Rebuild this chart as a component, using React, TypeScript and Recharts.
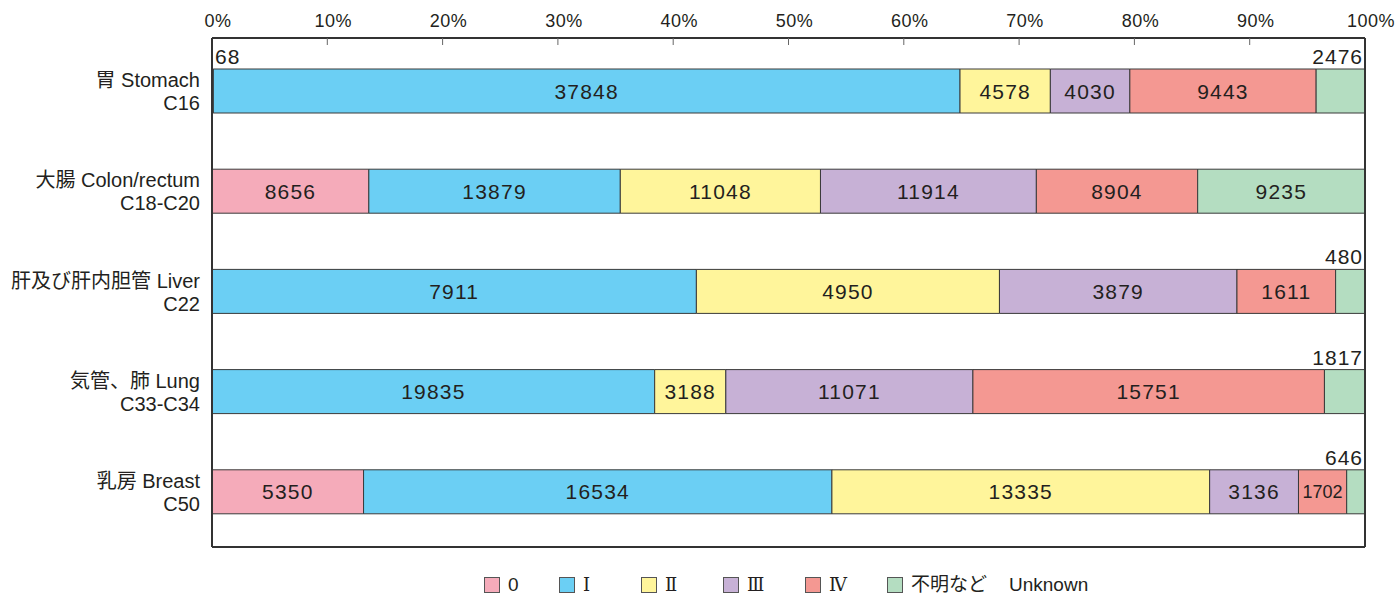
import * as React from "react";
import { BarChart, Bar, XAxis, YAxis, LabelList } from "recharts";

// categories (two-line labels)
const siteNames = ["胃 Stomach", "大腸 Colon/rectum", "肝及び肝内胆管 Liver", "気管、肺 Lung", "乳房 Breast"];
const siteCodes = ["C16", "C18-C20", "C22", "C33-C34", "C50"];

// counts by stage
const stage0 = [68, 8656, 0, 0, 5350];
const stage1 = [37848, 13879, 7911, 19835, 16534];
const stage2 = [4578, 11048, 4950, 3188, 13335];
const stage3 = [4030, 11914, 3879, 11071, 3136];
const stage4 = [9443, 8904, 1611, 15751, 1702];
const stageUnknown = [2476, 9235, 480, 1817, 646];

const percentTicks = [0, 0.1, 0.2, 0.3, 0.4, 0.5, 0.6, 0.7, 0.8, 0.9, 1];

const seriesKeys = ["s0", "s1", "s2", "s3", "s4", "su"];
const seriesNames = ["0", "Ⅰ", "Ⅱ", "Ⅲ", "Ⅳ", "不明など"];
const seriesColors = ["#F5ABBA", "#6BCFF4", "#FFF59B", "#C7B1D6", "#F49892", "#B4DDC1"];

const chartData = siteNames.map((name, i) => ({
  name,
  s0: stage0[i],
  s1: stage1[i],
  s2: stage2[i],
  s3: stage3[i],
  s4: stage4[i],
  su: stageUnknown[i],
}));

const FONT = "'Liberation Sans', Arial, 'Noto Sans CJK JP', sans-serif";
const SERIF = "'DejaVu Serif', 'Liberation Serif', serif";
const TEXT = "#231F20";
const BORDER = { stroke: "#333", strokeWidth: 2 };

const TopTick = (props: any) => {
  const { x, y, payload } = props;
  const inner = payload.value > 0 && payload.value < 1;
  return (
    <g>
      <text x={x + 6} y={y} textAnchor="middle" fontSize={18} fill={TEXT} fontFamily={FONT} letterSpacing={0.5}>
        {Math.round(payload.value * 100)}%
      </text>
      {inner && <line x1={x} x2={x} y1={y + 11} y2={y + 18} stroke="#666" strokeWidth={1} />}
    </g>
  );
};

const SiteTick = (props: any) => {
  const { x, y, payload } = props;
  const idx = siteNames.indexOf(payload.value);
  return (
    <g fontFamily={FONT} fontSize={20} fill={TEXT}>
      <text x={x} y={y - 4} textAnchor="end">{payload.value}</text>
      <text x={x} y={y + 19} textAnchor="end">{siteCodes[idx]}</text>
    </g>
  );
};

const makeLabel = (key: string) => (props: any) => {
  const { x, y, width, height, value } = props;
  if (!value) return null;
  if ((key === "s0" || key === "su") && width < 60) {
    // too narrow: write the count above the bar
    const left = key === "s0";
    return (
      <text
        x={left ? x + 3 : x + width - 2}
        y={y - 5}
        textAnchor={left ? "start" : "end"}
        fontSize={21}
        fill={TEXT}
        fontFamily={FONT}
        letterSpacing={1}
      >
        {value}
      </text>
    );
  }
  const fs = width < 60 ? 18 : 21;
  return (
    <text
      x={x + width / 2}
      y={y + height / 2 + fs * 0.36}
      textAnchor="middle"
      fontSize={fs}
      fill={TEXT}
      fontFamily={FONT}
      letterSpacing={fs === 21 ? 1.2 : 0}
    >
      {value}
    </text>
  );
};

const legendWidths = [75, 82, 82, 82, 82];

const LegendRow = () => (
  <div
    style={{
      position: "absolute",
      left: 484,
      top: 577,
      display: "flex",
      alignItems: "center",
      fontFamily: FONT,
      fontSize: 19,
      lineHeight: "16px",
      color: TEXT,
    }}
  >
    {seriesNames.map((n, i) => (
      <div key={n} style={{ display: "flex", alignItems: "center", width: legendWidths[i] }}>
        <div style={{ width: 14, height: 14, background: seriesColors[i], border: "1px solid #555", marginRight: 8 }} />
        <span
          style={{
            whiteSpace: "pre",
            fontFamily: i >= 1 && i <= 4 ? SERIF : FONT,
            fontSize: i >= 1 && i <= 4 ? 18 : 19,
          }}
        >
          {n}
        </span>
        {i === 5 && <span style={{ marginLeft: 22 }}>Unknown</span>}
      </div>
    ))}
  </div>
);

export default function App() {
  return (
    <div style={{ position: "absolute", left: 0, top: 0, width: 1399, height: 594, background: "#fff" }}>
      <BarChart
        width={1399}
        height={594}
        data={chartData}
        layout="vertical"
        stackOffset="expand"
        barSize={44}
        margin={{ top: 0, right: 33, bottom: 46, left: 0 }}
      >
        <XAxis
          type="number"
          orientation="top"
          domain={[0, 1]}
          ticks={percentTicks}
          height={38}
          tickSize={0}
          tickMargin={11}
          tick={<TopTick />}
          axisLine={BORDER}
          tickLine={false}
          interval={0}
        />
        <XAxis
          xAxisId="b"
          type="number"
          orientation="bottom"
          domain={[0, 1]}
          height={1}
          tick={false}
          tickLine={false}
          axisLine={BORDER}
        />
        <YAxis
          type="category"
          dataKey="name"
          width={212}
          tickSize={0}
          tickMargin={12}
          tick={<SiteTick />}
          tickLine={false}
          axisLine={BORDER}
          padding={{ top: 3, bottom: 5 }}
          interval={0}
        />
        <YAxis
          yAxisId="r"
          type="category"
          dataKey="name"
          orientation="right"
          width={1}
          tick={false}
          tickLine={false}
          axisLine={BORDER}
          padding={{ top: 3, bottom: 5 }}
        />
        {seriesKeys.map((k, i) => (
          <Bar
            key={k}
            dataKey={k}
            stackId="a"
            fill={seriesColors[i]}
            stroke="#3a3a3a"
            strokeWidth={1}
            isAnimationActive={false}
          >
            <LabelList dataKey={k} content={makeLabel(k)} />
          </Bar>
        ))}
      </BarChart>
      <LegendRow />
    </div>
  );
}
